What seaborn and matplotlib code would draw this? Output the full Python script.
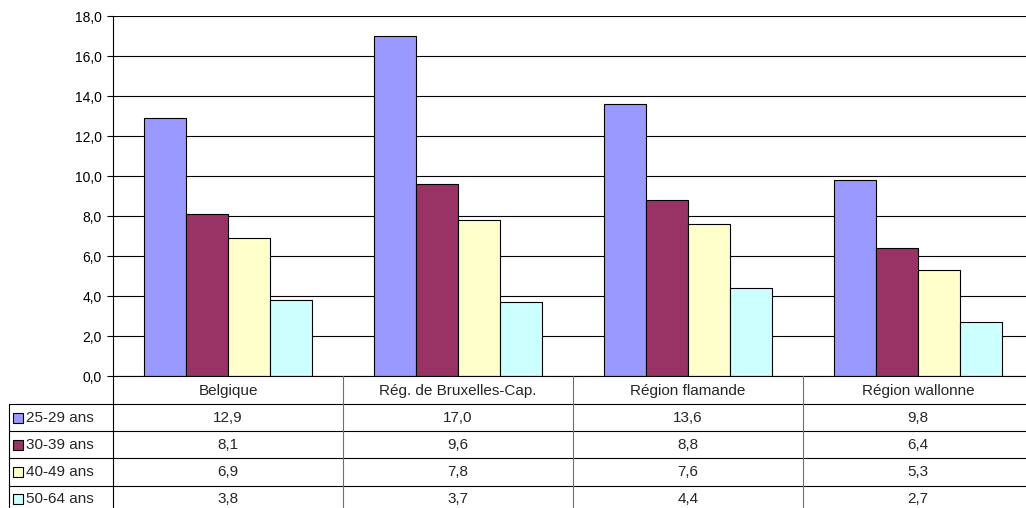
import numpy as np
import pandas as pd
import matplotlib.pyplot as plt
import matplotlib.transforms as mtransforms
from matplotlib.lines import Line2D
from matplotlib.patches import Rectangle
import seaborn as sns

# Data
regions = ['Belgique', 'Rég. de Bruxelles-Cap.', 'Région flamande', 'Région wallonne']
age_groups = ['25-29 ans', '30-39 ans', '40-49 ans', '50-64 ans']
v_25_29 = [12.9, 17.0, 13.6, 9.8]
v_30_39 = [8.1, 9.6, 8.8, 6.4]
v_40_49 = [6.9, 7.8, 7.6, 5.3]
v_50_64 = [3.8, 3.7, 4.4, 2.7]
y_ticks = [0, 2, 4, 6, 8, 10, 12, 14, 16, 18]
colors = ['#9999FF', '#993366', '#FFFFCC', '#CCFFFF']

series = [v_25_29, v_30_39, v_40_49, v_50_64]
df = pd.DataFrame({
    'region': regions * len(age_groups),
    'age': np.repeat(age_groups, len(regions)),
    'value': np.concatenate(series),
})

sns.set_style('white')
plt.rcParams['font.family'] = ['Liberation Sans', 'DejaVu Sans']

W, H = 1026, 508
fig = plt.figure(figsize=(W / 100, H / 100), dpi=100)

def fx(px):
    return px / W

def fy(py):
    return 1 - py / H

# plot area runs a bit past the right edge, as in the original export
ax = fig.add_axes([fx(113), fy(376), (1033 - 113) / W, (376 - 16) / H])

sns.barplot(data=df, x='region', y='value', hue='age', order=regions,
            hue_order=age_groups, palette=colors, saturation=1, width=0.73,
            gap=0, edgecolor='black', linewidth=0.8, errorbar=None,
            legend=False, ax=ax)

ax.set_xlim(-0.5, len(regions) - 0.5)
ax.set_ylim(0, 18)
ax.set_yticks(y_ticks)
ax.set_yticklabels([f'{t:.1f}'.replace('.', ',') for t in y_ticks])
ax.set_xticks([])
ax.set_xlabel('')
ax.set_ylabel('')
ax.tick_params(axis='y', length=4, width=0.8, direction='out', pad=4,
               labelsize=10, colors='black', left=True)
ax.grid(axis='y', color='black', lw=0.8)
ax.set_axisbelow(True)
for side in ['top', 'right']:
    ax.spines[side].set_visible(False)
for side in ['left', 'bottom']:
    ax.spines[side].set_color('black')
    ax.spines[side].set_linewidth(0.8)

# data table under the chart
trans = mtransforms.blended_transform_factory(ax.transData, fig.transFigure)
for py in [404, 431, 458, 486]:
    fig.add_artist(Line2D([fx(9), 1], [fy(py)] * 2, transform=fig.transFigure,
                          color='black', lw=0.8))
fig.add_artist(Line2D([fx(9)] * 2, [fy(404), 0], transform=fig.transFigure,
                      color='black', lw=0.8))
fig.add_artist(Line2D([fx(113)] * 2, [fy(376), 0], transform=fig.transFigure,
                      color='black', lw=0.8))
for b in np.arange(0.5, len(regions) - 0.5, 1):
    fig.add_artist(Line2D([b, b], [fy(376), 0], transform=trans,
                          color='#707070', lw=0.8))

header_y = 391
row_y = [418, 445, 472, 499]
for i, reg in enumerate(regions):
    fig.text(i, fy(header_y), reg, transform=trans, ha='center', va='center',
             fontsize=11)
    for j, vals in enumerate(series):
        fig.text(i, fy(row_y[j]), f'{vals[i]:.1f}'.replace('.', ','),
                 transform=trans, ha='center', va='center', fontsize=11)

# legend keys in the first table column
for j, name in enumerate(age_groups):
    fig.add_artist(Rectangle((fx(13), fy(row_y[j] + 5)), 10 / W, 10 / H,
                             transform=fig.transFigure, facecolor=colors[j],
                             edgecolor='black', lw=0.8))
    fig.text(fx(26), fy(row_y[j]), name, ha='left', va='center', fontsize=11)

fig.savefig('out.png', dpi=100)
